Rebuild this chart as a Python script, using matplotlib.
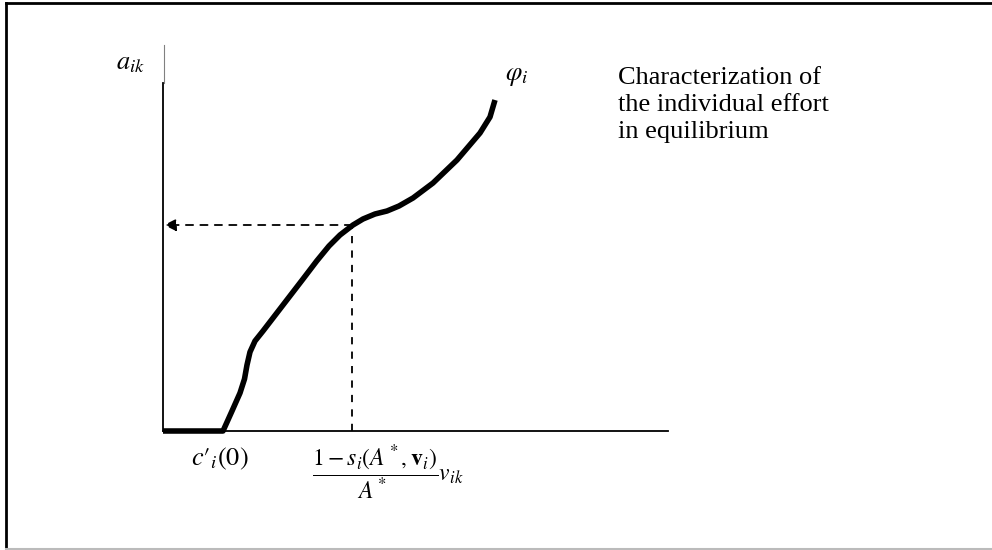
import matplotlib
matplotlib.use('Agg')
import matplotlib.pyplot as plt
from matplotlib.lines import Line2D

plt.rcParams['font.family'] = 'Liberation Serif'
plt.rcParams['mathtext.fontset'] = 'stix'

# curve phi_i (data units: pixels from origin)
curva_x = [0, 60, 68.7, 77, 81.5, 84, 87, 92, 100, 110, 120, 130, 140, 153.7,
           166, 177, 190, 200, 212, 224, 236, 250, 270, 294, 317, 327, 332]
curva_y = [0, 0, 19.3, 38, 52, 66, 79, 90, 100, 113, 126, 139, 152, 170,
           185, 196, 206, 212, 217, 220, 225, 233, 248, 271, 298, 314, 331]

# point of equilibrium
ponto_x = 189
ponto_y = 206

fig = plt.figure(figsize=(9.92, 5.5), dpi=100)
ax = fig.add_axes([163/992, 1 - 431/550, 505/992, 348/550])
ax.set_xlim(0, 505)
ax.set_ylim(0, 348)
ax.set_xticks([])
ax.set_yticks([])
ax.spines['top'].set_visible(False)
ax.spines['right'].set_visible(False)
ax.spines['left'].set_linewidth(1.3)
ax.spines['bottom'].set_linewidth(1.3)

# thin extension of y axis
ax.plot([0.8, 0.8], [348, 386], color='gray', lw=0.8, clip_on=False)

ax.plot(curva_x, curva_y, color='black', lw=4, solid_capstyle='butt',
        solid_joinstyle='round', clip_on=False)

# dashed lines
ax.plot([ponto_x, ponto_x], [0, ponto_y], color='black', lw=1.3, ls=(0, (4, 4)))
ax.annotate('', xy=(1, ponto_y), xytext=(ponto_x, ponto_y),
            arrowprops=dict(arrowstyle='-|>', color='black', lw=1.3,
                            ls=(0, (4, 4)), mutation_scale=18,
                            shrinkA=0, shrinkB=0))

ax.text(-18, 367, r'$a_{ik}$', fontsize=19, ha='right', va='center')
ax.text(342, 354, r'$\varphi_i$', fontsize=19, ha='left', va='center')
ax.text(57, -28, r"$c\prime_{i}(0)$", fontsize=19, ha='center', va='center')
ax.text(149, -12, r'$\dfrac{1-s_i\left(A^*,\mathbf{v}_i\right)}{A^*}v_{ik}$',
        fontsize=17, ha='left', va='top')
ax.text(455, 326, 'Characterization of\nthe individual effort\nin equilibrium',
        fontsize=19, ha='left', va='center', linespacing=1.3)

# outer frame
fig.add_artist(Line2D([6/992, 1], [1 - 3/550, 1 - 3/550], color='black', lw=2))
fig.add_artist(Line2D([6/992, 6/992], [1 - 3/550, 1/550], color='black', lw=2))
fig.add_artist(Line2D([6/992, 1], [1/550, 1/550], color='#bbbbbb', lw=1.5))

fig.savefig('out.png', dpi=100)
